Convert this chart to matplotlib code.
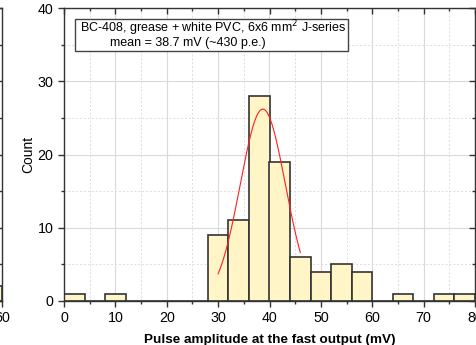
import numpy as np
import matplotlib
matplotlib.use("Agg")
import matplotlib.pyplot as plt
from matplotlib.patches import Rectangle

plt.rcParams['font.family'] = ['Liberation Sans', 'DejaVu Sans']

# Histogram data (4 mV bins) ---------------------
bin_edges = [0, 4, 8, 12, 16, 20, 24, 28, 32, 36, 40, 44, 48, 52, 56, 60, 64, 68, 72, 76]
counts = [1, 0, 1, 0, 0, 0, 0, 9, 11, 28, 19, 6, 4, 5, 4, 0, 1, 0, 1, 1]
bin_width = 4

# Gaussian fit shown in red
fit_mean = 38.7
fit_sigma = 4.4
fit_amp = 26.2
fit_range = (30, 46)

# Neighbouring panel, only its last bin is visible
left_edges = [56]
left_counts = [2]

box_line1 = "BC-408, grease + white PVC, 6x6 mm$^2$ J-series"
box_line2 = "mean = 38.7 mV (~430 p.e.)"

bar_color = '#fff5c6'
edge_color = '#333333'

W, H = 477, 345
fig = plt.figure(figsize=(W / 100, H / 100), dpi=100)

# main axes in pixel coordinates
x0, x1, y0, y1 = 64, 475, 8, 301
ax = fig.add_axes([x0 / W, 1 - y1 / H, (x1 - x0) / W, (y1 - y0) / H])

# cut-off neighbour panel on the left
ax2 = fig.add_axes([(2 - 411) / W, 1 - y1 / H, 411 / W, (y1 - y0) / H])
ax2.bar(left_edges, left_counts, width=bin_width, align='edge',
        color=bar_color, edgecolor=edge_color, linewidth=1.2)
ax2.set_xlim(0, 60)
ax2.set_ylim(0, 40)
ax2.set_xticks([60])
ax2.set_yticks([0, 10, 20, 30, 40])
ax2.set_yticks([5, 15, 25, 35], minor=True)
ax2.tick_params(axis='y', which='both', left=False, right=True, labelleft=False,
                direction='in', width=1, colors='#333333')
ax2.tick_params(axis='y', which='major', length=4)
ax2.tick_params(axis='y', which='minor', length=3)
ax2.tick_params(axis='x', labelsize=10.3, length=4, width=1, colors='#333333', labelcolor='black')
for s in ax2.spines.values():
    s.set_color('#333333')
    s.set_linewidth(1.0)

# grid
ax.set_axisbelow(True)
ax.set_xlim(0, 80)
ax.set_ylim(0, 40)
ax.set_xticks(np.arange(0, 81, 10))
ax.set_xticks(np.arange(5, 80, 10), minor=True)
ax.set_yticks([0, 10, 20, 30, 40])
ax.set_yticks([5, 15, 25, 35], minor=True)
ax.grid(True, which='major', color='#d9d9d9', linewidth=0.8, linestyle='-')
ax.grid(True, which='minor', color='#dddddd', linewidth=0.7, linestyle=(0, (2, 2)))

# bars
ax.bar(bin_edges, counts, width=bin_width, align='edge',
       color=bar_color, edgecolor=edge_color, linewidth=1.2, zorder=2)

# fit curve
xf = np.linspace(fit_range[0], fit_range[1], 200)
yf = fit_amp * np.exp(-(xf - fit_mean) ** 2 / (2 * fit_sigma ** 2))
ax.plot(xf, yf, color='#ff2020', linewidth=0.8, zorder=3)

# ticks
ax.tick_params(axis='both', which='both', top=True, right=True, width=1,
               colors='#333333', labelcolor='black', labelsize=10.3)
ax.tick_params(axis='x', which='major', direction='out', length=4)
ax.tick_params(axis='x', which='minor', direction='out', length=2.5)
ax.tick_params(axis='y', which='major', direction='out', length=4)
ax.tick_params(axis='y', which='minor', direction='out', length=2.5)
# top/right ticks point inwards
for t in ax.xaxis.get_major_ticks() + ax.xaxis.get_minor_ticks():
    t.tick2line.set_marker(3)
for t in ax.yaxis.get_major_ticks() + ax.yaxis.get_minor_ticks():
    t.tick2line.set_marker(0)
for s in ax.spines.values():
    s.set_color('#333333')
    s.set_linewidth(1.0)

ax.set_xlabel("Pulse amplitude at the fast output (mV)", fontsize=9.7,
              fontweight='bold', labelpad=6)
ax.set_ylabel("Count", fontsize=10, labelpad=1.5)

# annotation box
bx0, bx1, by0, by1 = 75, 348, 19, 51
ax.add_patch(Rectangle((bx0 / W, 1 - by1 / H), (bx1 - bx0) / W, (by1 - by0) / H,
                       transform=fig.transFigure, facecolor='white',
                       edgecolor='#444444', linewidth=1.0, zorder=5))
fig.text(80 / W, 1 - 28 / H, box_line1, fontsize=9.0, va='center', ha='left', zorder=6)
fig.text(110 / W, 1 - 43 / H, box_line2, fontsize=9.0, va='center', ha='left', zorder=6)

fig.savefig("out.png", dpi=100)
